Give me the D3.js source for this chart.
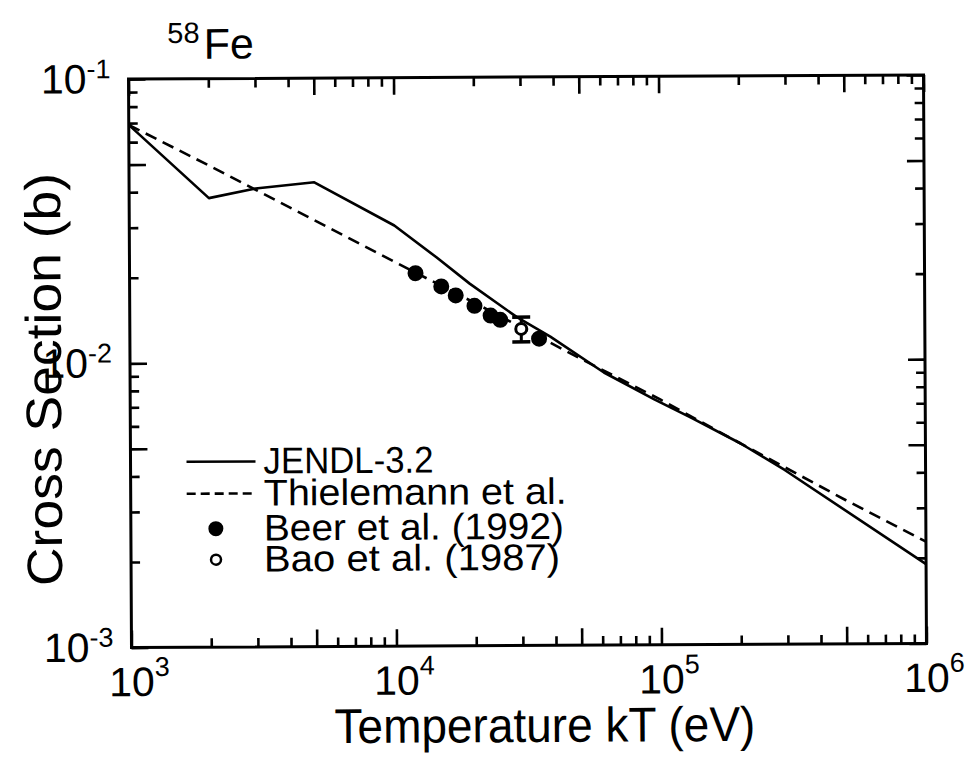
<!DOCTYPE html>
<html>
<head>
<meta charset="utf-8">
<script src="https://cdn.jsdelivr.net/npm/d3@7"></script>
<style>
  html, body { margin: 0; padding: 0; background: #fff; }
  svg { display: block; font-family: "Liberation Sans", Arial, Helvetica, sans-serif; }
</style>
</head>
<body>
<svg id="chart" width="973" height="757"></svg>
<script>
// ---- data ----
const jendlT   = [1e3, 2e3, 3e3, 5e3, 1e4, 1.44e4, 1.92e4, 2.89e4, 3.86e4, 6.14e4, 9.5e4, 1.3e5, 2e5, 2.94e5, 1e6];
const jendlSig = [0.069, 0.038, 0.041, 0.043, 0.0302, 0.0233, 0.0188, 0.0143, 0.0122, 0.0091, 0.0073, 0.0063, 0.0051, 0.0041, 0.0019];

const thielT   = [1e3, 2e3, 5e3, 1e4, 2e4, 5e4, 1e5, 2e5, 5e5, 1e6];
const thielSig = [0.069, 0.0495, 0.0316, 0.0225, 0.0161, 0.0102, 0.0073, 0.0051, 0.0032, 0.00228];

const beerT    = [1.2e4, 1.5e4, 1.7e4, 2.0e4, 2.3e4, 2.5e4, 3.5e4];
const beerSig  = [0.0205, 0.0184, 0.0171, 0.0157, 0.0145, 0.0140, 0.0120];

const baoT     = [3.0e4];
const baoSig   = [0.0130];
const baoErr   = [0.0013];

const xMajorTicks = [1e3, 1e4, 1e5, 1e6];
const xTickExps   = ["3", "4", "5", "6"];
const yMajorTicks = [1e-3, 1e-2, 1e-1];
const yTickExps   = ["-3", "-2", "-1"];

const legendLabels = ["JENDL-3.2", "Thielemann et al.", "Beer et al. (1992)", "Bao et al. (1987)"];

// ---- layout ----
const L = 130, R = 925, T = 77, B = 645.5;
const svg = d3.select("#chart");
const root = svg.append("g").attr("transform", `rotate(-0.3, ${(L+R)/2}, ${(T+B)/2})`);

const x = d3.scaleLog().domain([1e3, 1e6]).range([L, R]);
const y = d3.scaleLog().domain([1e-3, 1e-1]).range([B, T]);

// tick groups
const xAll = x.ticks().filter(v => v >= 1e3 && v <= 1e6);
const yAll = y.ticks().filter(v => v >= 1e-3 && v <= 1e-1);
const lead = v => Math.round(v / Math.pow(10, Math.floor(Math.log10(v) + 1e-9)));
const xMinor = xAll.filter(v => lead(v) !== 1 && lead(v) !== 5);
const xMid = xAll.filter(v => lead(v) === 5 || lead(v) === 1);
const yMinor = yAll.filter(v => lead(v) !== 1 && lead(v) !== 5);
const yMid = yAll.filter(v => lead(v) === 5 || lead(v) === 1);

const axisStyle = g => {
  g.select(".domain").remove();
  g.selectAll(".tick line").attr("stroke", "#000").attr("stroke-width", 2.6);
  g.selectAll(".tick text").remove();
};
const minorLen = 9, majorLen = 17;

root.append("g").attr("transform", `translate(0,${B})`).call(d3.axisTop(x).tickValues(xMinor).tickSize(minorLen)).call(axisStyle);
root.append("g").attr("transform", `translate(0,${B})`).call(d3.axisTop(x).tickValues(xMid).tickSize(majorLen)).call(axisStyle);
root.append("g").attr("transform", `translate(0,${T})`).call(d3.axisBottom(x).tickValues(xMinor).tickSize(minorLen)).call(axisStyle);
root.append("g").attr("transform", `translate(0,${T})`).call(d3.axisBottom(x).tickValues(xMid).tickSize(majorLen)).call(axisStyle);
root.append("g").attr("transform", `translate(${L},0)`).call(d3.axisRight(y).tickValues(yMinor).tickSize(minorLen)).call(axisStyle);
root.append("g").attr("transform", `translate(${L},0)`).call(d3.axisRight(y).tickValues(yMid).tickSize(majorLen)).call(axisStyle);
root.append("g").attr("transform", `translate(${R},0)`).call(d3.axisLeft(y).tickValues(yMinor).tickSize(minorLen)).call(axisStyle);
root.append("g").attr("transform", `translate(${R},0)`).call(d3.axisLeft(y).tickValues(yMid).tickSize(majorLen)).call(axisStyle);

// frame
root.append("rect").attr("x", L).attr("y", T).attr("width", R - L).attr("height", B - T)
  .attr("fill", "none").attr("stroke", "#000").attr("stroke-width", 3);

// ---- series ----
const line = d3.line().x(d => x(d[0])).y(d => y(d[1]));
root.append("path").datum(jendlT.map((t, i) => [t, jendlSig[i]]))
  .attr("d", line).attr("fill", "none").attr("stroke", "#000").attr("stroke-width", 2.6)
  .attr("stroke-linejoin", "round");
root.append("path").datum(thielT.map((t, i) => [t, thielSig[i]]))
  .attr("d", line).attr("fill", "none").attr("stroke", "#000").attr("stroke-width", 2.6)
  .attr("stroke-dasharray", "12,7");

// Bao error bar
const baoData = baoT.map((t, i) => ({ t, s: baoSig[i], e: baoErr[i] }));
const eb = root.append("g").selectAll("g").data(baoData).join("g");
eb.append("line").attr("x1", d => x(d.t)).attr("x2", d => x(d.t))
  .attr("y1", d => y(d.s + d.e)).attr("y2", d => y(d.s - d.e)).attr("stroke", "#000").attr("stroke-width", 3);
eb.append("line").attr("x1", d => x(d.t) - 9).attr("x2", d => x(d.t) + 9)
  .attr("y1", d => y(d.s + d.e)).attr("y2", d => y(d.s + d.e)).attr("stroke", "#000").attr("stroke-width", 3.5);
eb.append("line").attr("x1", d => x(d.t) - 9).attr("x2", d => x(d.t) + 9)
  .attr("y1", d => y(d.s - d.e)).attr("y2", d => y(d.s - d.e)).attr("stroke", "#000").attr("stroke-width", 3.5);

// Beer filled circles
root.append("g").selectAll("circle").data(beerT.map((t, i) => [t, beerSig[i]])).join("circle")
  .attr("cx", d => x(d[0])).attr("cy", d => y(d[1])).attr("r", 8).attr("fill", "#000");

// Bao open circle
eb.append("circle").attr("cx", d => x(d.t)).attr("cy", d => y(d.s)).attr("r", 5.5)
  .attr("fill", "#fff").attr("stroke", "#000").attr("stroke-width", 3);

// ---- tick labels ----
const tickFont = 41, supFont = 27;
xMajorTicks.forEach((v, i) => {
  const t = root.append("text").attr("x", x(v) - 22.5).attr("y", 694)
    .attr("font-size", tickFont).attr("fill", "#000");
  t.append("tspan").text("10");
  t.append("tspan").attr("font-size", supFont).attr("dy", -20).text(xTickExps[i]);
});
yMajorTicks.forEach((v, i) => {
  const t = root.append("text").attr("x", 112).attr("y", y(v) + 14)
    .attr("font-size", tickFont).attr("fill", "#000").attr("text-anchor", "end");
  t.append("tspan").text("10");
  t.append("tspan").attr("font-size", supFont).attr("dy", -15).text(yTickExps[i]);
});

// ---- axis titles ----
root.append("text").attr("transform", "translate(543,742) scale(1,1.06)").attr("text-anchor", "middle")
  .attr("font-size", 46).attr("fill", "#000").text("Temperature kT (eV)");
root.append("text").attr("transform", "translate(61,377) rotate(-90) scale(1.07,1)").attr("text-anchor", "middle")
  .attr("font-size", 50).attr("fill", "#000").text("Cross Section (b)");

// nuclide label
const nl = root.append("text").attr("x", 169).attr("y", 57).attr("font-size", 43).attr("fill", "#000");
nl.append("tspan").attr("font-size", 29).attr("dy", -16).text("58");
nl.append("tspan").attr("dy", 16).attr("dx", 4).text("Fe");

// ---- legend ----
const lg = root.append("g");
const rowY = [460, 492, 527, 558];
const legendWidths = [170, 303, 300, 296];
lg.append("line").attr("x1", 186).attr("x2", 255).attr("y1", rowY[0]).attr("y2", rowY[0])
  .attr("stroke", "#000").attr("stroke-width", 2.6);
lg.append("line").attr("x1", 186).attr("x2", 255).attr("y1", rowY[1]).attr("y2", rowY[1])
  .attr("stroke", "#000").attr("stroke-width", 2.6).attr("stroke-dasharray", "9,5");
lg.append("circle").attr("cx", 215).attr("cy", rowY[2]).attr("r", 7.5).attr("fill", "#000");
lg.append("circle").attr("cx", 215).attr("cy", rowY[3]).attr("r", 5).attr("fill", "#fff")
  .attr("stroke", "#000").attr("stroke-width", 2.5);
legendLabels.forEach((s, i) => {
  lg.append("text").attr("x", 263).attr("y", rowY[i] + 12).attr("font-size", 37)
    .attr("textLength", legendWidths[i]).attr("lengthAdjust", "spacingAndGlyphs")
    .attr("fill", "#000").text(s);
});
</script>
</body>
</html>
